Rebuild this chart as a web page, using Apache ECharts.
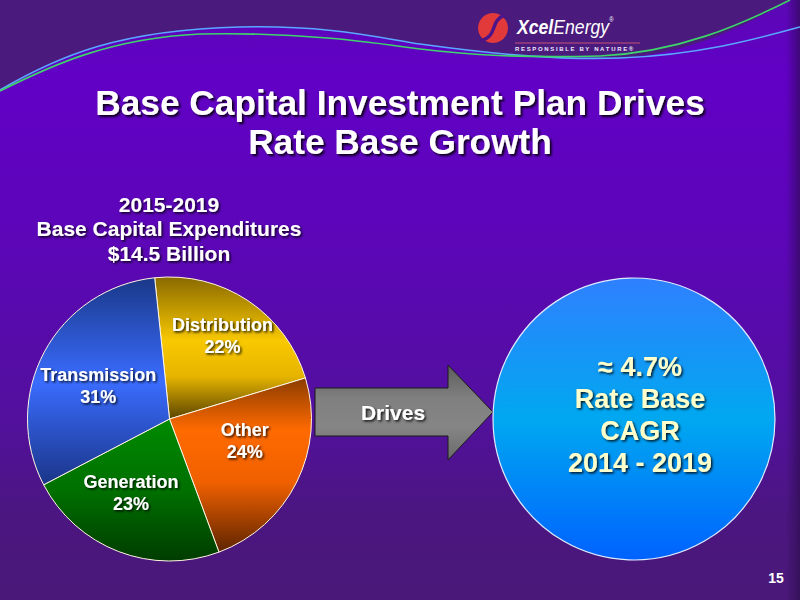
<!DOCTYPE html>
<html>
<head>
<meta charset="utf-8">
<script src="https://cdn.jsdelivr.net/npm/echarts@6/dist/echarts.min.js"></script>
<style>html,body{margin:0;padding:0;background:#4a1878;}#chart{width:800px;height:600px;}</style>
</head>
<body>
<div id="chart"></div>
<script>
// ---- data ----
const categories = ['Distribution', 'Other', 'Generation', 'Transmission'];
const shares = [22, 24, 23, 31];
const titleLines = ['Base Capital Investment Plan Drives', 'Rate Base Growth'];
const pieTitleLines = ['2015-2019', 'Base Capital Expenditures', '$14.5 Billion'];
const arrowText = 'Drives';
const cagrLines = ['\u2248 4.7%', 'Rate Base', 'CAGR', '2014 - 2019'];
const pageNumber = '15';

// ---- styles ----
const FONT = '"Liberation Sans", Arial, Helvetica, sans-serif';
function vGrad(stops) {
  return { type: 'linear', x: 0, y: 0, x2: 0, y2: 1,
    colorStops: stops.map(s => ({ offset: s[0], color: s[1] })) };
}
const sliceColors = [
  vGrad([[0, '#8a6a00'], [0.45, '#f8c800'], [0.7, '#e6b400'], [1, '#5a4400']]),
  vGrad([[0, '#8a3c00'], [0.3, '#ff6a00'], [0.6, '#f06000'], [1, '#5e2400']]),
  vGrad([[0, '#008a00'], [0.5, '#007000'], [1, '#003c00']]),
  vGrad([[0, '#1a3888'], [0.5, '#3a6cff'], [1, '#1a3588']])
];
const labelNudge = [[12, -21], [9, -11], [-12, 5], [-6, 2]];
const shadowText = { textShadowColor: 'rgba(0,0,0,0.85)', textShadowBlur: 2, textShadowOffsetX: 1.5, textShadowOffsetY: 1.5 };

// decorative curve segments (cubic bezier: p0, c1, c2, p3)
const blueCurve = [
  [[0, 90], [60, 55], [120, 30], [240, 27]],
  [[240, 27], [330, 25], [380, 38], [420, 44]],
  [[420, 44], [500, 55], [560, 60], [620, 58]],
  [[620, 58], [700, 55], [760, 38], [800, 27]]
];
const greenCurve = [
  [[0, 91], [50, 66], [110, 38], [200, 34]],
  [[200, 34], [300, 32], [370, 42], [420, 49]],
  [[420, 49], [470, 55], [520, 58], [600, 56]],
  [[600, 56], [680, 52], [740, 25], [790, 0]]
];
const topEdge = [
  [[0, 90], [60, 55], [120, 30], [240, 27]],
  [[240, 27], [330, 25], [380, 38], [420, 44]],
  [[420, 44], [500, 55], [560, 60], [630, 57]],
  [[630, 57], [700, 50], [745, 25], [790, 0]]
];
function curveEls(segs, color) {
  return segs.map(s => ({ type: 'bezierCurve', z: -90, silent: true,
    shape: { x1: s[0][0], y1: s[0][1], cpx1: s[1][0], cpy1: s[1][1], cpx2: s[2][0], cpy2: s[2][1], x2: s[3][0], y2: s[3][1] },
    style: { fill: null, stroke: color, lineWidth: 1.6 } }));
}
function sampleSegs(segs) {
  const pts = [];
  segs.forEach(s => {
    for (let k = 0; k <= 20; k++) {
      const t = k / 20, u = 1 - t;
      const a = u * u * u, b = 3 * u * u * t, c = 3 * u * t * t, d = t * t * t;
      pts.push([a * s[0][0] + b * s[1][0] + c * s[2][0] + d * s[3][0], a * s[0][1] + b * s[1][1] + c * s[2][1] + d * s[3][1]]);
    }
  });
  return pts;
}

const chart = echarts.init(document.getElementById('chart'), null, { renderer: 'svg', width: 800, height: 600 });

const graphics = [
  // background
  { type: 'rect', z: -100, silent: true, shape: { x: 0, y: 0, width: 800, height: 600 },
    style: { fill: vGrad([[0, '#5a08b4'], [0.12, '#6200c6'], [0.4, '#5c06b8'], [0.7, '#52109c'], [0.86, '#4b1680'], [1, '#4a1878']]) } },
  { type: 'polygon', z: -99, silent: true,
    shape: { points: [[0, 0]].concat(sampleSegs(topEdge)).concat([[800, 0]]) },
    style: { fill: '#4a1a7c' } },
  { type: 'rect', z: -98, silent: true, shape: { x: 786, y: 0, width: 14, height: 600 },
    style: { fill: { type: 'linear', x: 0, y: 0, x2: 1, y2: 0, colorStops: [{ offset: 0, color: 'rgba(40,12,70,0)' }, { offset: 1, color: 'rgba(40,12,70,0.6)' }] } } }
]
.concat(curveEls(blueCurve, '#5aa8ff'))
.concat(curveEls(greenCurve, '#3ed46a'))
.concat([
  // logo
  { type: 'circle', z: 10, silent: true, shape: { cx: 493, cy: 28, r: 15 }, style: { fill: '#e23a3a' } },
  { type: 'bezierCurve', z: 11, silent: true,
    shape: { x1: 505, y1: 15, cpx1: 489, cpy1: 21, cpx2: 499, cpy2: 35, x2: 481, y2: 41 },
    style: { fill: null, stroke: '#4e1488', lineWidth: 3.5 } },
  { type: 'text', z: 10, silent: true, x: 517, y: 37, scaleX: 0.84,
    style: { text: '{a|Xcel}{b|Energy}{c|\u00ae}', textVerticalAlign: 'bottom', fill: '#fff',
      rich: { a: { fontFamily: FONT, fontSize: 21, fontWeight: 'bold', fontStyle: 'italic', fill: '#fff' },
              b: { fontFamily: FONT, fontSize: 21, fontStyle: 'italic', fill: '#fff' },
              c: { fontFamily: FONT, fontSize: 7, fill: '#fff', verticalAlign: 'top' } } } },
  { type: 'line', z: 10, silent: true, shape: { x1: 515, y1: 43, x2: 640, y2: 43 }, style: { stroke: '#c8507a', lineWidth: 1 } },
  { type: 'text', z: 10, silent: true, x: 515, y: 49,
    style: { text: 'R E S P O N S I B L E   B Y   N A T U R E \u00ae', fontFamily: FONT, fontSize: 6, fontWeight: 'bold', fill: '#f0e8ff', textVerticalAlign: 'middle' } },
  // title
  { type: 'text', z: 10, silent: true, x: 400, y: 122, scaleX: 0.98, originX: 0,
    style: { text: titleLines.join('\n'), fontFamily: FONT, fontSize: 36, fontWeight: 'bold', lineHeight: 39,
      fill: '#ffffff', textAlign: 'center', textVerticalAlign: 'middle', ...shadowText, textShadowOffsetX: 2, textShadowOffsetY: 2 } },
  // pie title
  { type: 'text', z: 10, silent: true, x: 169, y: 228.5,
    style: { text: pieTitleLines.join('\n'), fontFamily: FONT, fontSize: 21, fontWeight: 'bold', lineHeight: 24.5,
      fill: '#ffffff', textAlign: 'center', textVerticalAlign: 'middle', ...shadowText } },
  // arrow
  { type: 'polygon', z: 10, silent: true,
    shape: { points: [[315, 388], [448, 388], [448, 365], [493, 412], [448, 460], [448, 436], [315, 436]] },
    style: { fill: vGrad([[0, '#5c5c5c'], [0.35, '#808080'], [0.65, '#858585'], [1, '#6a6a6a']]), stroke: '#1a1a1a', lineWidth: 1 } },
  { type: 'text', z: 11, silent: true, x: 393, y: 412,
    style: { text: arrowText, fontFamily: FONT, fontSize: 21, fontWeight: 'bold', fill: '#ffffff',
      textAlign: 'center', textVerticalAlign: 'middle', ...shadowText } },
  // CAGR circle
  { type: 'circle', z: 10, silent: true, shape: { cx: 634, cy: 419, r: 141 },
    style: { fill: vGrad([[0, '#2f80ff'], [0.5, '#00a8f0'], [1, '#0062ff']]), stroke: '#e0ecff', lineWidth: 1.2 } },
  { type: 'text', z: 11, silent: true, x: 640, y: 415,
    style: { text: cagrLines.join('\n'), fontFamily: FONT, fontSize: 27, fontWeight: 'bold', lineHeight: 32,
      fill: '#ffffcc', textAlign: 'center', textVerticalAlign: 'middle', ...shadowText } },
  // page number
  { type: 'text', z: 10, silent: true, x: 776, y: 578,
    style: { text: pageNumber, fontFamily: FONT, fontSize: 14, fontWeight: 'bold', fill: '#ffffff',
      textAlign: 'center', textVerticalAlign: 'middle' } }
]);

const option = {
  animation: false,
  series: [{
    type: 'pie',
    center: [169.5, 419],
    radius: 142,
    startAngle: 96,
    clockwise: true,
    silent: true,
    z: 5,
    itemStyle: { borderColor: '#fff6e0', borderWidth: 1 },
    label: {
      show: true, position: 'inside',
      formatter: '{b}\n{c}%',
      color: '#ffffff', fontFamily: FONT, fontWeight: 'bold', fontSize: 18, lineHeight: 22,
      ...shadowText
    },
    labelLine: { show: false },
    labelLayout: function (p) { const n = labelNudge[p.dataIndex]; return { dx: n[0], dy: n[1] }; },
    data: categories.map((c, i) => ({ name: c, value: shares[i], itemStyle: { color: sliceColors[i] } }))
  }],
  graphic: graphics
};
chart.setOption(option);
</script>
</body>
</html>
